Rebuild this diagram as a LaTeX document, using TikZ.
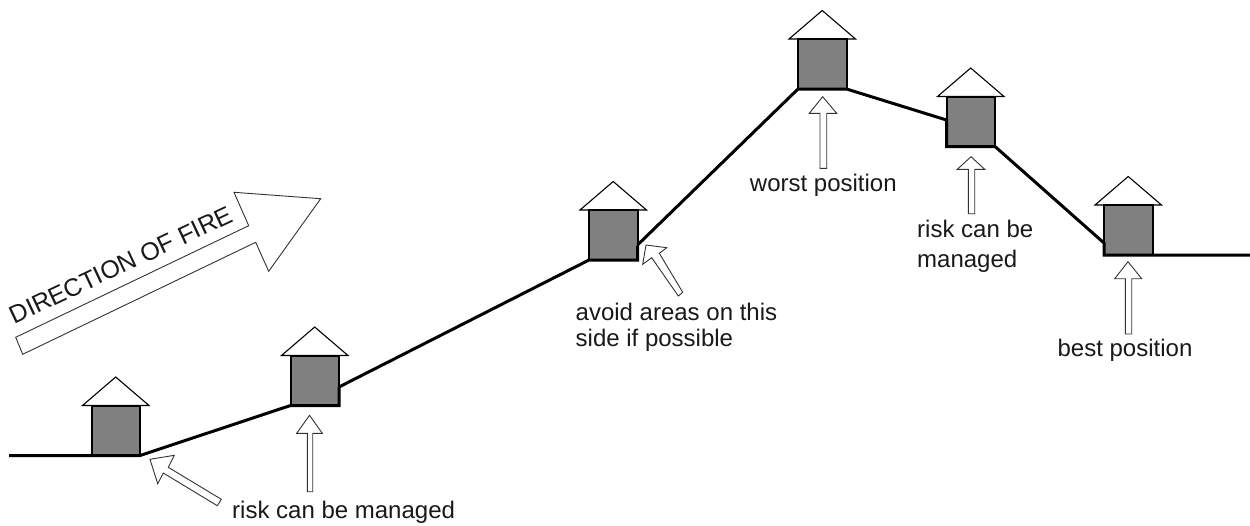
\documentclass[tikz,border=0pt]{standalone}
\usepackage{fontspec}
\setmainfont{Liberation Sans}
\newcommand{\HouseAt}[3]{% left x, top y, name
  \fill[gray50fill] (#1,#2) rectangle ++(48.5,50);
  \draw[roofline] (#1-9,#2) -- (#1+24.2,#2-28.5) -- (#1+57.5,#2) -- cycle;
  \draw[boxline] (#1,#2) rectangle ++(48.5,50);
  \coordinate (#3 bl) at (#1,#2+50);
  \coordinate (#3 br) at (#1+48.5,#2+50);
}
\tikzset{
  x=1pt,y=-1pt,
  gray50fill/.style={fill={rgb,255:red,128;green,128;blue,128}},
  roofline/.style={draw=black,line width=1.1pt,fill=white,line join=miter},
  boxline/.style={draw=black,line width=2pt},
  groundline/.style={draw=black,line width=3pt,line cap=butt,line join=miter},
  hollow/.style={draw=black!80,line width=0.9pt,fill=white,line join=miter},
  lbl/.style={font=\fontsize{24}{27}\selectfont,text=black!90,inner sep=0pt,align=left},
  firelbl/.style={font=\fontsize{25}{27}\selectfont,text=black!90,inner sep=0pt},
}
\begin{document}
\begin{tikzpicture}
\useasboundingbox (0,0) rectangle (1250,525);
\fill[white] (0,0) rectangle (1250,525);
\coordinate (gs) at (9,455.5);
\coordinate (ge) at (1250,255);
\HouseAt{91.5}{405.5}{h1}
\HouseAt{290.5}{355.5}{h2}
\HouseAt{589}{210}{h3}
\HouseAt{798}{39}{h4}
\HouseAt{946.5}{96.5}{h5}
\HouseAt{1104}{205}{h6}
% ground
\draw[groundline] (gs) -- (h1 br) -- (h2 bl) -- (h2 br) -- ++(0,-18.5);
\draw[groundline] (339,387) -- (h3 bl) -- (h3 br) -- ++(0,-14.5);
\draw[groundline] (637.5,245) -- (h4 bl) -- (h4 br) -- (946.5,120) -- (h5 bl) -- (h5 br) -- (1104,243) -- (h6 bl) -- (ge);
% direction arrow
\draw[hollow] (15.7,337.3) -- (22.7,354.3) -- (255.7,242.3) -- (268.7,271.3) -- (320.7,198.7) -- (234,192.3) -- (248.7,225.7) -- cycle;
% up arrows
\draw[hollow] (309.5,415.3) -- (322.3,433.3) -- (312.7,433.3) -- (312.7,491.7) -- (307.3,491.7) -- (307.3,433.3) -- (296.7,433.3) -- cycle;
\draw[hollow] (822.7,96.7) -- (836.7,113.3) -- (826.7,113.3) -- (826.7,168.3) -- (820,168.3) -- (820,113.3) -- (809.3,113.3) -- cycle;
\draw[hollow] (971,156.7) -- (984.7,169.3) -- (974.7,169.3) -- (974.7,213.7) -- (968.3,213.7) -- (968.3,169.3) -- (957.3,169.3) -- cycle;
\draw[hollow] (1128,261.7) -- (1141.7,278.7) -- (1131.7,278.7) -- (1131.7,334) -- (1125.3,334) -- (1125.3,278.7) -- (1114.7,278.7) -- cycle;
% diagonal arrows
\draw[hollow] (150,459.3) -- (174.3,455.3) -- (168.3,467.3) -- (221.3,499.3) -- (217.3,505.7) -- (163.3,473) -- (157.7,483.7) -- cycle;
\draw[hollow] (646,245) -- (666.7,247.7) -- (659.3,253.3) -- (682.7,292.3) -- (678.3,296) -- (651.7,257.7) -- (642.7,264.3) -- cycle;
% labels
\node[firelbl,rotate=25.2,anchor=center] (fire) at (121,265) {DIRECTION OF FIRE};
\node[lbl,anchor=base west] (t1) at (232,518) {risk can be managed};
\node[lbl,anchor=base west] (t2a) at (575.5,320.7) {avoid areas on this};
\node[lbl,anchor=base west] (t2b) at (575.5,346.7) {side if possible};
\node[lbl,anchor=base] (t3) at (823.3,191) {worst position};
\node[lbl,anchor=base west] (t4a) at (917,237.7) {risk can be};
\node[lbl,anchor=base west] (t4b) at (917,267.3) {managed};
\node[lbl,anchor=base] (t5) at (1125,356.7) {best position};
\end{tikzpicture}
\end{document}
